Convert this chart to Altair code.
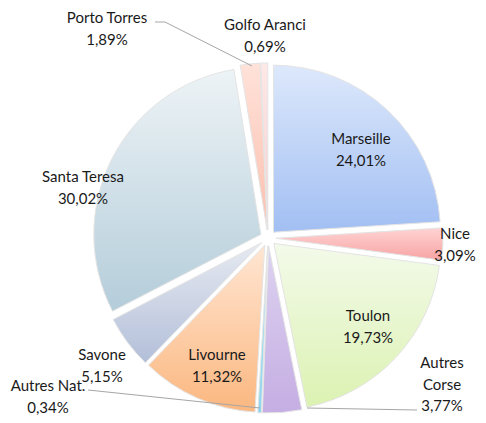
import altair as alt
import pandas as pd

# ---- data ----
names = ["Marseille", "Nice", "Toulon", "Autres Corse", "Autres Nat.",
         "Livourne", "Savone", "Santa Teresa", "Porto Torres", "Golfo Aranci"]
shares = [24.01, 3.09, 19.73, 3.77, 0.34, 11.32, 5.15, 30.02, 1.89, 0.69]
label_names = ["Marseille", "Nice", "Toulon", "Autres\nCorse", "Autres Nat.",
               "Livourne", "Savone", "Santa Teresa", "Porto Torres", "Golfo Aranci"]

# ---- styles / layout ----
grad_top = ["#dde8fb", "#ffd3d3", "#f3faea", "#ddd2f0", "#b8e6f5",
            "#ffe6d3", "#e6eaf1", "#edf3f6", "#ffe2da", "#fde8e8"]
grad_bottom = ["#a2bff3", "#f7a3a3", "#dcf2b2", "#c5aee3", "#8ed6ee",
               "#fbb780", "#b3bfd9", "#b4cdda", "#fbbfad", "#f7cfcf"]
# position of the first text line of each label
label_x = [353, 447, 360, 434, 40, 209, 94, 75, 99, 257]
label_y = [131, 226, 308, 355, 378, 347, 347, 169, 10, 17]

lead_x = [147, 157, 80, 299]
lead_y = [14, 14, 382, 400]
lead_x2 = [157, 244, 252, 409]
lead_y2 = [14, 58, 400, 402]

W, H = 470, 407
CX, CY = 260, 230
R = 167
EXPLODE = 8

df = pd.DataFrame({"name": names, "share": shares, "idx": list(range(len(names)))})

base = (
    alt.Chart(df)
    .transform_window(cum="sum(share)", sort=[alt.SortField("idx")])
    .transform_joinaggregate(total="sum(share)")
    .transform_calculate(
        t0="2*PI*(datum.cum - datum.share)/datum.total",
        t1="2*PI*datum.cum/datum.total",
    )
    .transform_calculate(tm="(datum.t0 + datum.t1)/2")
    .transform_calculate(
        cx=f"{CX} + {EXPLODE}*sin(datum.tm)",
        cy=f"{CY} - {EXPLODE}*cos(datum.tm)",
    )
)

layers = []
for n, top, bot in zip(names, grad_top, grad_bottom):
    layers.append(
        base.transform_filter(alt.datum.name == n)
        .mark_arc(
            outerRadius=R,
            stroke="#e4e4e4",
            strokeWidth=1,
            fill=alt.Gradient(
                gradient="linear",
                stops=[alt.GradientStop(color=top, offset=0),
                       alt.GradientStop(color=bot, offset=1)],
                x1=0, y1=0, x2=0, y2=1,
            ),
        )
        .encode(
            x=alt.X("cx:Q", scale=None, axis=None),
            y=alt.Y("cy:Q", scale=None, axis=None),
            theta=alt.Theta("t0:Q", scale=None, stack=None),
            theta2="t1:Q",
        )
    )

lab_df = pd.DataFrame({"name": names, "share": shares, "lab": label_names,
                       "lx": label_x, "ly": label_y})
labels = (
    alt.Chart(lab_df)
    .transform_calculate(
        txt="datum.lab + '\\n' + replace(format(datum.share, '.2f'), '.', ',') + '%'"
    )
    .mark_text(lineBreak="\n", fontSize=15, font="Lato", color="#1a1a1a",
               lineHeight=21.5, align="center", baseline="middle")
    .encode(
        x=alt.X("lx:Q", scale=None, axis=None),
        y=alt.Y("ly:Q", scale=None, axis=None),
        text="txt:N",
    )
)

lead_df = pd.DataFrame({"x": lead_x, "y": lead_y, "x2": lead_x2, "y2": lead_y2})
leaders = (
    alt.Chart(lead_df)
    .mark_rule(color="#a6a6a6", strokeWidth=1)
    .encode(
        x=alt.X("x:Q", scale=None, axis=None),
        y=alt.Y("y:Q", scale=None, axis=None),
        x2="x2:Q",
        y2="y2:Q",
    )
)

chart = (
    alt.layer(*layers, leaders, labels)
    .properties(width=W, height=H, autosize="none", padding=0)
    .configure_view(strokeWidth=0)
)

chart.save("out.html", embed_options={"renderer": "svg", "actions": False})
